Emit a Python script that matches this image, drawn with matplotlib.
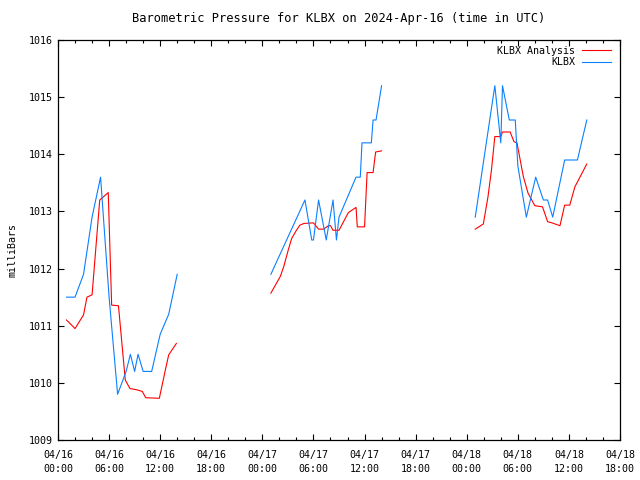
import matplotlib
matplotlib.use('Agg')
import matplotlib.pyplot as plt
import matplotlib.dates as mdates
import numpy as np
import pandas as pd

base = pd.Timestamp('2024-04-16 00:00')

# KLBX observations (hours after 04/16 00:00 UTC, mb), three runs with gaps between
klbx_hours = [
    [1, 2, 3, 4, 5, 6, 7, 8, 8.5, 9, 9.4, 10, 11, 12, 13, 14],
    [25, 29, 29.8, 30, 30.6, 31.5, 32.3, 32.7, 33, 35, 35.5, 35.7, 36.8, 37, 37.35, 38],
    [49, 51.3, 52.0, 52.2, 53.0, 53.7, 54.0, 55.0, 56.1, 57.0, 57.5, 58.1, 59.5, 61.0, 62.1],
]
klbx_mb = [
    [1011.5, 1011.5, 1011.9, 1012.9, 1013.6, 1011.5, 1009.8, 1010.2, 1010.5, 1010.2,
     1010.5, 1010.2, 1010.2, 1010.85, 1011.2, 1011.9],
    [1011.9, 1013.2, 1012.5, 1012.5, 1013.2, 1012.5, 1013.2, 1012.5, 1012.9, 1013.6,
     1013.6, 1014.2, 1014.2, 1014.6, 1014.6, 1015.2],
    [1012.9, 1015.2, 1014.2, 1015.2, 1014.6, 1014.6, 1013.8, 1012.9, 1013.6, 1013.2,
     1013.2, 1012.9, 1013.9, 1013.9, 1014.6],
]

# KLBX analysis
anl_hours = [
    [1, 2, 3, 3.4, 4, 4.9, 5.9, 6.3, 7.1, 7.9, 8.45, 9.2, 9.9, 10.3, 11.9, 12.6, 13, 13.9],
    [25, 26.1, 26.5, 27.05, 27.45, 28, 28.4, 28.9, 30, 30.6, 31.2, 31.75, 32.0, 32.3, 33,
     34.1, 35, 35.15, 36, 36.3, 37, 37.3, 38],
    [49, 49.95, 50.5, 50.9, 51.3, 52.0, 52.2, 53.1, 53.55, 53.9, 54.65, 55.2, 56.0, 56.9,
     57.5, 58.0, 58.95, 59.5, 60.1, 60.7, 62.1],
]
anl_mb = [
    [1011.1, 1010.95, 1011.19, 1011.5, 1011.54, 1013.2, 1013.33, 1011.36, 1011.35,
     1010.05, 1009.9, 1009.88, 1009.85, 1009.74, 1009.73, 1010.22, 1010.49, 1010.69],
    [1011.57, 1011.86, 1012.03, 1012.33, 1012.53, 1012.67, 1012.76, 1012.79, 1012.8,
     1012.69, 1012.69, 1012.75, 1012.75, 1012.67, 1012.67, 1012.98, 1013.07, 1012.73,
     1012.73, 1013.68, 1013.68, 1014.04, 1014.06],
    [1012.69, 1012.78, 1013.26, 1013.72, 1014.31, 1014.31, 1014.39, 1014.39, 1014.22,
     1014.2, 1013.61, 1013.32, 1013.1, 1013.08, 1012.82, 1012.8, 1012.75, 1013.11,
     1013.11, 1013.43, 1013.83],
]

plt.rcParams['font.family'] = 'DejaVu Sans Mono'
plt.rcParams['font.size'] = 7.2

fig = plt.figure(figsize=(6.4, 4.8), dpi=100)
ax = fig.add_axes([58/640, 40/480, 562/640, 400/480])

def to_time(hours):
    return base + pd.to_timedelta(np.array(hours), unit='h')

for i, (h, p) in enumerate(zip(anl_hours, anl_mb)):
    ax.plot(to_time(h), p, color='#ff0000', lw=0.8,
            label='KLBX Analysis' if i == 0 else None)
for i, (h, p) in enumerate(zip(klbx_hours, klbx_mb)):
    ax.plot(to_time(h), p, color='#0a80ff', lw=0.8,
            label='KLBX' if i == 0 else None)

ax.set_xlim(base, base + pd.Timedelta(hours=66))
ax.set_ylim(1009, 1016)
ax.set_yticks(np.arange(1009, 1017, 1))
ax.xaxis.set_major_locator(mdates.HourLocator(byhour=[0, 6, 12, 18]))
ax.xaxis.set_minor_locator(mdates.HourLocator(interval=2))
ax.xaxis.set_major_formatter(mdates.DateFormatter('%m/%d\n%H:%M'))

ax.tick_params(which='major', direction='in', length=4.5, width=0.8,
               top=True, right=True, pad=4)
ax.tick_params(axis='x', which='major', pad=7)
ax.tick_params(which='minor', direction='in', length=2.5, width=0.8,
               top=True, right=False, left=False)
ax.tick_params(axis='x', which='minor', bottom=True, top=True)
for s in ax.spines.values():
    s.set_linewidth(0.9)

for lbl in ax.get_xticklabels():
    lbl.set_linespacing(1.5)

ax.set_title('Barometric Pressure for KLBX on 2024-Apr-16 (time in UTC)', pad=13)
ax.set_ylabel('milliBars')
ax.yaxis.set_label_coords(-0.072, 0.475)

ax.legend(loc='upper right', bbox_to_anchor=(0.995, 1.0), frameon=False,
          markerfirst=False, handlelength=2.9, handletextpad=0.7,
          labelspacing=0.15, borderaxespad=0.2)

fig.savefig('out.png', dpi=100)
